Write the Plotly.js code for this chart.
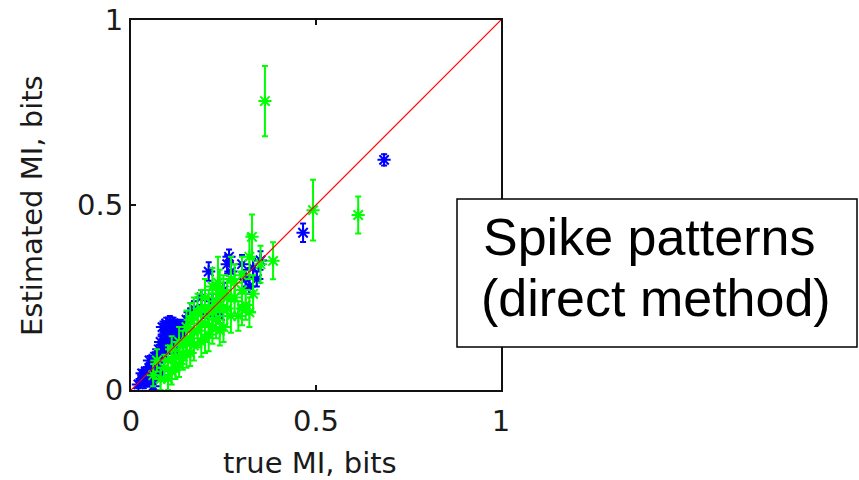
<!DOCTYPE html>
<html>
<head>
<meta charset="utf-8">
<script src="https://cdn.plot.ly/plotly-3.0.1.min.js"></script>
<style>
  html, body { margin: 0; padding: 0; background: #ffffff; }
  #chart { width: 859px; height: 480px; }
</style>
</head>
<body>
<div id="chart"></div>
<script>
// Estimated vs. true mutual information (bits), two estimator runs with error bars.

// Blue series: true MI, estimated MI, error half-width
const blueTrue = [0.02, 0.03, 0.035, 0.04, 0.045, 0.05, 0.055, 0.06, 0.065, 0.07, 0.075, 0.08, 0.085, 0.09, 0.095, 0.10, 0.105, 0.11, 0.115, 0.12, 0.125, 0.13, 0.135, 0.14, 0.10, 0.12, 0.15, 0.16, 0.17, 0.19, 0.21, 0.20, 0.22, 0.24, 0.26, 0.27, 0.265, 0.25, 0.30, 0.31, 0.33, 0.32, 0.34, 0.35, 0.465, 0.684, 0.06, 0.08,
                  0.085, 0.095, 0.105, 0.115, 0.125, 0.09, 0.11, 0.13, 0.145, 0.075, 0.065, 0.05, 0.04, 0.03, 0.055];
const blueEst  = [0.015, 0.03, 0.02, 0.05, 0.035, 0.06, 0.04, 0.075, 0.05, 0.09, 0.065, 0.13, 0.10, 0.15, 0.12, 0.16, 0.14, 0.17, 0.13, 0.16, 0.15, 0.17, 0.14, 0.16, 0.11, 0.10, 0.19, 0.20, 0.22, 0.25, 0.32, 0.20, 0.24, 0.20, 0.34, 0.32, 0.36, 0.27, 0.34, 0.30, 0.33, 0.28, 0.30, 0.35, 0.425, 0.622, 0.01, 0.04,
                  0.17, 0.18, 0.185, 0.18, 0.175, 0.135, 0.15, 0.155, 0.17, 0.11, 0.09, 0.08, 0.02, 0.045, 0.025];
const blueErr  = [0.01, 0.01, 0.01, 0.012, 0.01, 0.012, 0.01, 0.012, 0.01, 0.015, 0.012, 0.015, 0.015, 0.015, 0.015, 0.015, 0.015, 0.015, 0.015, 0.015, 0.015, 0.015, 0.015, 0.015, 0.012, 0.012, 0.02, 0.02, 0.02, 0.02, 0.025, 0.02, 0.02, 0.02, 0.025, 0.025, 0.02, 0.02, 0.025, 0.025, 0.025, 0.02, 0.02, 0.025, 0.025, 0.015, 0.01, 0.01,
                  0.015, 0.015, 0.015, 0.015, 0.015, 0.015, 0.015, 0.015, 0.015, 0.012, 0.012, 0.012, 0.01, 0.01, 0.01];

// Green series: true MI, estimated MI, error half-width
const greenTrue = [0.06, 0.08, 0.09, 0.10, 0.11, 0.12, 0.13, 0.14, 0.15, 0.15, 0.16, 0.17, 0.17, 0.18, 0.19, 0.19, 0.20, 0.20, 0.21, 0.22, 0.22, 0.23, 0.235, 0.24, 0.25, 0.25, 0.26, 0.27, 0.28, 0.29, 0.30, 0.31, 0.32, 0.327, 0.33, 0.35, 0.384, 0.492, 0.614, 0.362, 0.13, 0.11, 0.07,
                   0.16, 0.18, 0.19, 0.21, 0.20, 0.23, 0.22, 0.24, 0.26, 0.27, 0.28, 0.17, 0.15, 0.14, 0.12, 0.10, 0.16, 0.24, 0.30, 0.30, 0.32];
const greenEst  = [0.04, 0.03, 0.06, 0.08, 0.05, 0.09, 0.07, 0.12, 0.10, 0.17, 0.14, 0.20, 0.12, 0.16, 0.22, 0.13, 0.18, 0.25, 0.15, 0.21, 0.28, 0.19, 0.29, 0.23, 0.17, 0.26, 0.22, 0.30, 0.25, 0.20, 0.27, 0.23, 0.36, 0.414, 0.26, 0.34, 0.349, 0.486, 0.473, 0.781, 0.13, 0.11, 0.08,
                   0.19, 0.21, 0.18, 0.22, 0.14, 0.24, 0.17, 0.27, 0.25, 0.20, 0.29, 0.16, 0.13, 0.09, 0.06, 0.03, 0.10, 0.16, 0.22, 0.31, 0.21];
const greenErr  = [0.03, 0.03, 0.035, 0.04, 0.035, 0.04, 0.035, 0.04, 0.04, 0.045, 0.04, 0.05, 0.04, 0.045, 0.05, 0.04, 0.05, 0.05, 0.045, 0.05, 0.05, 0.05, 0.07, 0.05, 0.04, 0.05, 0.05, 0.06, 0.05, 0.04, 0.05, 0.04, 0.06, 0.06, 0.05, 0.05, 0.05, 0.082, 0.05, 0.095, 0.04, 0.035, 0.03,
                   0.045, 0.05, 0.045, 0.05, 0.04, 0.05, 0.045, 0.055, 0.05, 0.045, 0.05, 0.04, 0.04, 0.035, 0.03, 0.03, 0.035, 0.04, 0.045, 0.05, 0.04];

// Identity reference line
const diagX = [0, 1];
const diagY = [0, 1];

const tickVals = [0, 0.5, 1];
const tickText = ['0', '0.5', '1'];

const xTitle = 'true MI, bits';
const yTitle = 'Estimated MI, bits';
const boxLines = ['Spike patterns', '(direct method)'];

const axisFont = { family: 'DejaVu Sans, sans-serif', size: 29, color: '#1a1a1a' };
const boxFont = { family: 'Liberation Sans, Arial, sans-serif', size: 52, color: '#000' };

function series(x, y, err, color) {
  return {
    type: 'scatter', mode: 'markers', x: x, y: y,
    marker: { symbol: 'asterisk-open', size: 11, color: color, line: { color: color, width: 2 } },
    error_y: { type: 'data', array: err, visible: true, color: color, thickness: 2, width: 3 },
    showlegend: false, hoverinfo: 'x+y'
  };
}

const traces = [
  series(blueTrue, blueEst, blueErr, '#0000ff'),
  series(greenTrue, greenEst, greenErr, '#00ff00'),
  { type: 'scatter', mode: 'lines', x: diagX, y: diagY,
    line: { color: '#ff0000', width: 1.2 }, showlegend: false, hoverinfo: 'skip' }
];

// pixel helpers for the plot square (131..501 horizontally, 20..390 vertically)
const px = p => (p - 131) / 370;
const py = p => (390 - p) / 370;

const axisCommon = {
  range: [0, 1], tickvals: tickVals, ticktext: tickText,
  ticks: 'inside', ticklen: 5, tickwidth: 1.5, tickcolor: '#111',
  showline: true, linecolor: '#111', linewidth: 2, mirror: 'ticks',
  showgrid: false, zeroline: false, tickfont: axisFont, fixedrange: true
};

const layout = {
  width: 859, height: 480,
  margin: { l: 131, r: 358, t: 20, b: 90 },
  paper_bgcolor: '#ffffff', plot_bgcolor: '#ffffff',
  xaxis: Object.assign({}, axisCommon, { ticklabelstandoff: 4 }),
  yaxis: Object.assign({}, axisCommon),
  shapes: [
    { type: 'rect', xref: 'paper', yref: 'paper',
      x0: px(457), x1: px(857), y0: py(347), y1: py(199),
      line: { color: '#000000', width: 1.5 }, fillcolor: '#ffffff', layer: 'above' }
  ],
  annotations: [
    { xref: 'paper', yref: 'paper', x: px(310), y: py(463), xanchor: 'center', yanchor: 'middle',
      text: xTitle, showarrow: false, font: axisFont },
    { xref: 'paper', yref: 'paper', x: px(32), y: py(206), xanchor: 'center', yanchor: 'middle',
      text: yTitle, textangle: -90, showarrow: false, font: axisFont },
    { xref: 'paper', yref: 'paper', x: px(481), y: py(237), xanchor: 'left', yanchor: 'middle',
      text: boxLines[0], showarrow: false, font: boxFont },
    { xref: 'paper', yref: 'paper', x: px(479), y: py(298), xanchor: 'left', yanchor: 'middle',
      text: boxLines[1], showarrow: false, font: boxFont }
  ]
};

Plotly.newPlot('chart', traces, layout, { displayModeBar: false, staticPlot: true });
</script>
</body>
</html>
